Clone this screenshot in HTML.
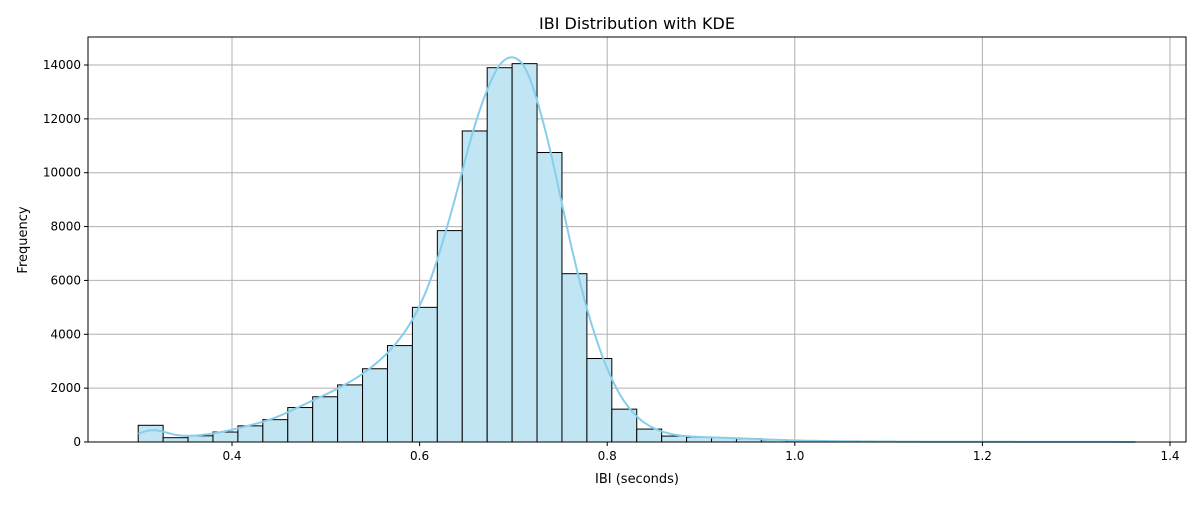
<!DOCTYPE html>
<html><head><meta charset="utf-8"><style>
body{margin:0;background:#fff;font-family:"Liberation Sans","DejaVu Sans",sans-serif}
svg text{font-family:"DejaVu Sans","Liberation Sans",sans-serif;fill:#000}
</style></head><body>
<svg id="c" width="1200" height="500" xmlns="http://www.w3.org/2000/svg">
<rect width="1200" height="500" fill="#fff"/>
<g id="grid"></g><g id="bars"></g><g id="kde"></g><g id="axes"></g>
<text x="637" y="29" text-anchor="middle" font-size="16">IBI Distribution with KDE</text>
<text x="637" y="483" text-anchor="middle" font-size="13">IBI (seconds)</text>
<text x="27" y="240" text-anchor="middle" font-size="13" transform="rotate(-90 27 240)">Frequency</text>
</svg>
<script>
const binStart=0.3, binEnd=1.363;
const counts=[620,160,230,370,600,830,1280,1680,2120,2720,3580,5000,7850,11550,13900,14050,10750,6250,3100,1220,480,220,180,150,120,80,50,35,25,20,15,12,10,8,6,5,4,3,2,2];
const xTicks=[0.4,0.6,0.8,1.0,1.2,1.4];
const xTickLabels=["0.4","0.6","0.8","1.0","1.2","1.4"];
const yTicks=[0,2000,4000,6000,8000,10000,12000,14000];
const L=88,R=1186,T=37,B=442;
const xs=v=>232+(v-0.4)*938;
const ys=v=>B-v*(377/14000);
const NS="http://www.w3.org/2000/svg";
function mk(tag,attrs,parent){const e=document.createElementNS(NS,tag);for(const k in attrs)e.setAttribute(k,attrs[k]);document.getElementById(parent).appendChild(e);return e;}
xTicks.forEach((t,i)=>{
 const g=mk('line',{x1:xs(t),x2:xs(t),y1:T,y2:B,stroke:'#b0b0b0','stroke-width':1},'grid');
 
 
 const tk=mk('line',{x1:xs(t),x2:xs(t),y1:B,y2:B+4,stroke:'#000'},'axes');
 
 
 const tx=mk('text',{x:xs(t),y:B+18,'text-anchor':'middle','font-size':12},'axes');
 tx.textContent=xTickLabels[i];
 
 
});
yTicks.forEach(t=>{
 const g=mk('line',{x1:L,x2:R,y1:ys(t),y2:ys(t),stroke:'#b0b0b0','stroke-width':1},'grid');
 
 
 const tk=mk('line',{x1:L-4,x2:L,y1:ys(t),y2:ys(t),stroke:'#000'},'axes');
 
 
 const tx=mk('text',{x:L-7,y:ys(t)+4,'text-anchor':'end','font-size':12},'axes');
 tx.textContent=String(t);
 
 
});
const bw=(binEnd-binStart)/counts.length;
counts.forEach((c,i)=>{
 const x0=xs(binStart+i*bw),x1=xs(binStart+(i+1)*bw);
 const r=mk('rect',{x:x0,y:ys(c),width:x1-x0,height:B-ys(c),fill:'#c2e5f3',stroke:'#000','stroke-width':1},'bars');
 
 
});
const h=0.017;
let d='';
for(let k=0;k<=400;k++){
 const x=binStart+(binEnd-binStart)*k/400;let s=0;
 counts.forEach((c,i)=>{const m=binStart+(i+0.5)*bw;const z=(x-m)/h;s+=c*Math.exp(-0.5*z*z);});
 const dens=s/(h*Math.sqrt(2*Math.PI));
 const y=dens*bw*1.04;
 d+=(k?'L':'M')+xs(x).toFixed(1)+','+ys(y).toFixed(1);
}
const p=mk('path',{d:d,fill:'none',stroke:'#87ceeb','stroke-width':2},'kde');


const f=mk('rect',{x:L,y:T,width:R-L,height:B-T,fill:'none',stroke:'#000','stroke-width':1},'axes');


</script>
</body></html>
